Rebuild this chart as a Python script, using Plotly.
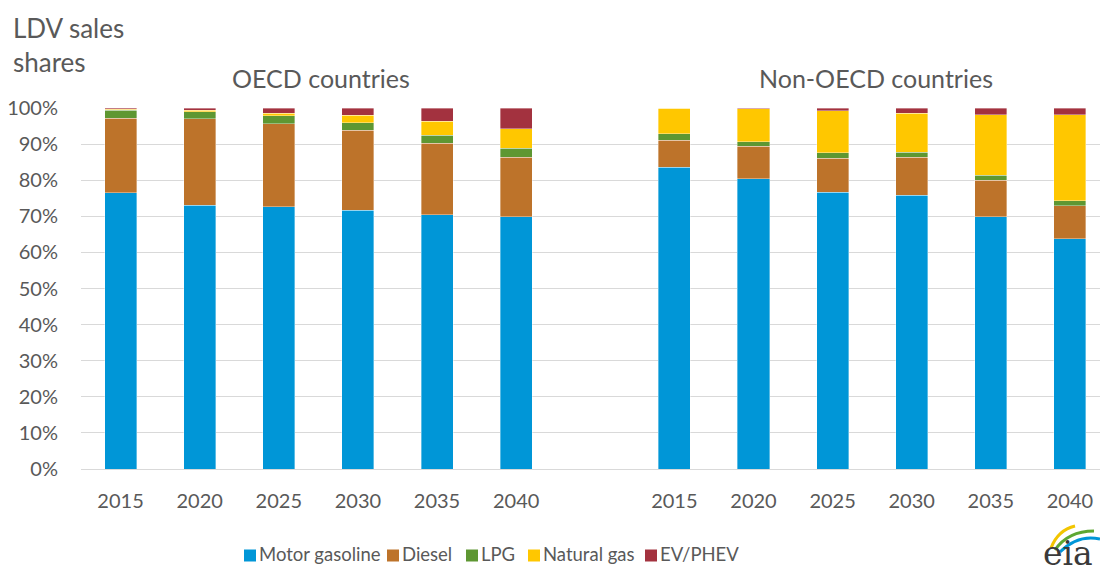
import plotly.graph_objects as go

# Light-duty vehicle sales shares by fuel, percent of sales
years = ["2015", "2020", "2025", "2030", "2035", "2040"]
regions = ["OECD countries", "Non-OECD countries"]
pct_ticks = list(range(0, 101, 10))
pct_labels = [f"{v}%" for v in pct_ticks]

oecd_gasoline = [76.5, 73.1, 72.6, 71.7, 70.5, 69.9]
oecd_diesel = [20.6, 23.9, 23.1, 22.1, 19.7, 16.4]
oecd_lpg = [2.3, 2.0, 2.2, 2.1, 2.3, 2.6]
oecd_natgas = [0.2, 0.4, 0.7, 2.1, 3.8, 5.3]
oecd_ev = [0.4, 0.6, 1.4, 2.0, 3.7, 5.8]

non_oecd_gasoline = [83.6, 80.4, 76.6, 75.8, 69.9, 63.8]
non_oecd_diesel = [7.4, 9.0, 9.5, 10.5, 10.1, 9.1]
non_oecd_lpg = [1.9, 1.3, 1.5, 1.4, 1.4, 1.4]
non_oecd_natgas = [7.0, 9.1, 11.7, 10.8, 16.7, 23.8]
non_oecd_ev = [0.1, 0.2, 0.7, 1.5, 1.9, 1.9]

fuels = ["Motor gasoline", "Diesel", "LPG", "Natural gas", "EV/PHEV"]
colors = ["#0096d7", "#bd732a", "#5e9732", "#ffc700", "#a3323f"]
oecd = [oecd_gasoline, oecd_diesel, oecd_lpg, oecd_natgas, oecd_ev]
non_oecd = [non_oecd_gasoline, non_oecd_diesel, non_oecd_lpg, non_oecd_natgas, non_oecd_ev]

# Two groups of six bars with one empty slot between them
x_oecd = list(range(len(years)))
x_non = [i + len(years) + 1 for i in range(len(years))]
x_all = x_oecd + x_non

TXT = "#595959"
FONT = "Lato, Open Sans, sans-serif"

# Plot area in pixels: left 81, right 1100, top 108, bottom 469
PL, PW, PB, PH = 81, 1019, 469, 361


def px(xp):
    return (xp - PL) / PW


def py(yp):
    return (PB - yp) / PH


fig = go.Figure()
for name, color, a, b in zip(fuels, colors, oecd, non_oecd):
    fig.add_trace(go.Bar(
        x=x_all, y=a + b, name=name, showlegend=False,
        marker=dict(color=color, line=dict(color="rgba(255,255,255,0.45)", width=0.8)),
        width=0.405,
    ))

fig.update_layout(
    barmode="stack",
    width=1100, height=575,
    margin=dict(l=PL, r=0, t=108, b=106, autoexpand=False),
    paper_bgcolor="white", plot_bgcolor="white",
    font=dict(family=FONT, color=TXT, size=20),
    xaxis=dict(
        range=[-0.5, 12.38], tickvals=x_all, ticktext=years + years,
        showgrid=False, zeroline=False, showline=False,
        ticks="", ticklabelstandoff=18,
        tickfont=dict(size=20, color=TXT),
    ),
    yaxis=dict(
        range=[0, 100], tickvals=pct_ticks, ticktext=pct_labels,
        showgrid=True, gridcolor="#d9d9d9", gridwidth=1,
        zeroline=True, zerolinecolor="#d9d9d9", zerolinewidth=1,
        showline=False, ticks="", ticklabelstandoff=22,
        tickfont=dict(size=20, color=TXT),
    ),
)

# Legend row along the bottom: square swatch followed by its label
legend_left = [244, 387, 466, 528, 645]
for name, color, left in zip(fuels, colors, legend_left):
    fig.add_shape(type="rect", xref="paper", yref="paper",
                  x0=px(left), x1=px(left + 12), y0=py(561.5), y1=py(549.5),
                  fillcolor=color, line=dict(width=0))
    fig.add_annotation(text=name, xref="paper", yref="paper",
                       x=px(left + 13), y=py(554), xanchor="left", yanchor="middle",
                       showarrow=False, font=dict(size=18.5, color=TXT, family=FONT))

# Axis caption and region headings
fig.add_annotation(text="LDV sales<br>shares", xref="paper", yref="paper",
                   x=px(11), y=py(10), xanchor="left", yanchor="top",
                   showarrow=False, align="left",
                   font=dict(size=26, color=TXT, family=FONT))
fig.add_annotation(text=regions[0], xref="x", yref="paper",
                   x=(x_oecd[0] + x_oecd[-1]) / 2 + 0.03, y=py(78), yanchor="middle",
                   showarrow=False, font=dict(size=25, color=TXT, family=FONT))
fig.add_annotation(text=regions[1], xref="x", yref="paper",
                   x=(x_non[0] + x_non[-1]) / 2 + 0.05, y=py(78), yanchor="middle",
                   showarrow=False, font=dict(size=25, color=TXT, family=FONT))

# Small eia logo in the lower right corner
fig.add_annotation(text="eia", xref="paper", yref="paper", x=px(1068),
                   y=py(575), xanchor="center", yanchor="bottom",
                   showarrow=False, font=dict(size=33, color="#3a3a3a", family="DejaVu Serif"))
logo_arcs = [
    ("#f2c500", (1051, 548), (1058, 530), (1075, 526)),
    ("#5ea732", (1055, 550), (1068, 531), (1094, 531)),
    ("#0096d7", (1060, 552), (1078, 534), (1100, 539)),
]
for col, p0, pc, p1 in logo_arcs:
    fig.add_shape(type="path", xref="paper", yref="paper",
                  path="M {:.4f},{:.4f} Q {:.4f},{:.4f} {:.4f},{:.4f}".format(
                      px(p0[0]), py(p0[1]), px(pc[0]), py(pc[1]), px(p1[0]), py(p1[1])),
                  line=dict(color=col, width=3))

fig.write_html("out.html")
